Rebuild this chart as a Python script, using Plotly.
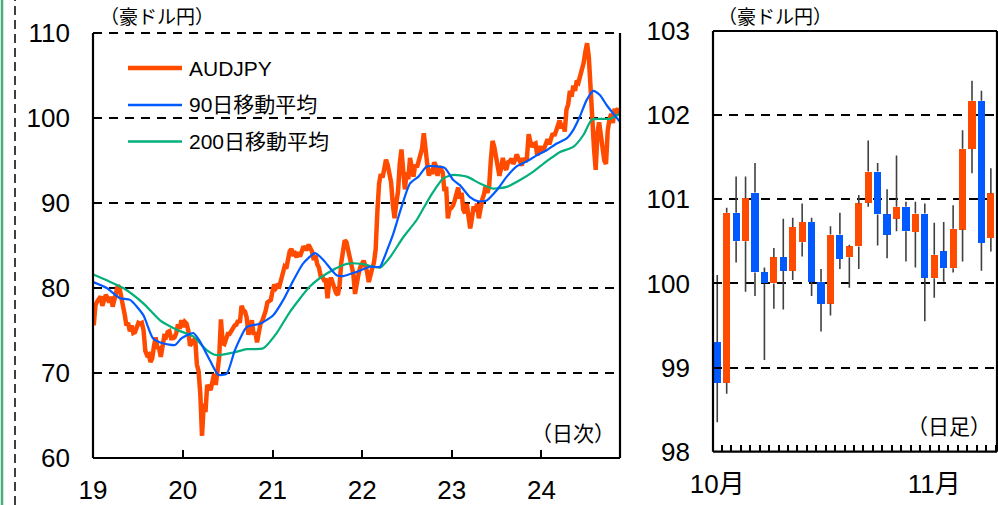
"""AUDJPY daily chart with moving averages, plus daily candlesticks for Oct-Nov 2024."""

import pandas as pd
import plotly.graph_objects as go

ORANGE = "#FF4B00"
BLUE = "#005AFF"
GREEN = "#03AF7A"
FONT = "Liberation Sans, Arial, Noto Sans CJK JP, sans-serif"

W, H = 998, 505

# AUDJPY, weekly (Fridays from 2019-01-04)
audjpy_2019 = [75.6, 78.0, 78.4, 78.8, 79.0, 77.9, 78.6, 79.2, 78.8, 78.3,
               79.0, 77.8, 78.6, 79.3, 80.3, 80.0, 78.6, 77.9, 76.9, 75.6,
               75.9, 74.9, 75.6, 74.7, 74.8, 75.5, 75.9, 75.8, 75.9, 75.0,
               72.6, 72.1, 72.2, 71.3, 71.7, 73.1, 74.2, 73.0, 72.9, 71.9,
               73.3, 74.3, 74.2, 74.8, 74.9, 74.1, 74.1, 74.2, 74.7, 75.7,
               75.2, 76.2]
audjpy_2020 = [75.4, 76.0, 75.8, 75.0, 73.2, 73.5, 74.0, 74.1, 71.0, 70.2,
               67.5, 62.6, 66.4, 65.4, 68.6, 68.2, 68.0, 68.9, 69.9, 68.6,
               70.2, 71.9, 76.3, 73.5, 73.4, 73.9, 74.6, 74.6, 75.0, 75.2,
               75.6, 75.7, 76.2, 75.9, 77.9, 77.4, 77.2, 76.5, 74.5, 75.4,
               76.2, 74.5, 74.8, 73.6, 75.1, 75.8, 76.1, 76.6, 77.3, 78.3,
               78.4, 78.6]
audjpy_2021 = [79.6, 80.4, 80.0, 80.3, 80.2, 81.0, 81.3, 82.5, 82.3, 83.6,
               84.3, 84.6, 84.0, 84.1, 83.6, 84.2, 83.7, 84.3, 84.9, 84.6,
               84.6, 85.1, 84.8, 84.3, 83.3, 83.8, 82.8, 82.4, 81.4, 81.3,
               80.9, 80.9, 78.8, 80.7, 81.2, 80.6, 79.8, 79.4, 79.2, 80.3,
               83.0, 84.4, 85.6, 85.4, 84.4, 83.4, 82.5, 81.7, 79.3, 80.8,
               81.6, 82.4]
audjpy_2022 = [82.7, 83.2, 82.6, 81.9, 80.7, 81.8, 82.3, 83.0, 84.5, 89.0,
               92.3, 93.4, 93.0, 94.0, 95.1, 94.5, 93.2, 92.4, 89.8, 88.2,
               90.0, 91.3, 94.6, 96.3, 93.9, 91.6, 93.6, 92.8, 95.3, 94.0,
               93.1, 94.5, 94.2, 94.9, 95.6, 96.4, 98.2, 96.0, 94.6, 93.2,
               94.0, 93.4, 94.8, 94.4, 93.2, 94.3, 93.8, 93.6, 91.4, 91.9,
               88.2, 89.3]
audjpy_2023 = [89.4, 89.7, 90.3, 91.0, 91.8, 90.5, 91.2, 89.2, 88.8, 89.9,
               88.2, 87.0, 88.2, 89.6, 89.0, 89.9, 88.2, 89.4, 90.4, 91.0,
               92.0, 91.2, 91.9, 95.0, 97.3, 96.6, 95.4, 94.4, 93.2, 94.1,
               95.3, 94.2, 93.9, 94.8, 94.9, 95.2, 94.6, 95.0, 95.7, 95.3,
               94.7, 94.4, 95.3, 94.8, 95.3, 98.1, 97.2, 96.6, 96.9, 97.0,
               95.6, 96.5]
audjpy_2024 = [96.5, 96.0, 96.4, 97.2, 97.5, 96.9, 97.6, 98.2, 97.9, 98.6,
               99.2, 99.7, 98.8, 99.4, 98.4, 101.0, 101.6, 103.2, 102.5, 103.8,
               103.2, 104.4, 104.2, 104.9, 105.5, 106.5, 107.8, 108.8, 107.2, 103.5,
               98.0, 96.5, 93.9, 98.2, 99.5, 98.0, 96.2, 95.0, 94.6, 98.5,
               99.8, 100.5, 99.4, 101.1, 100.3, 101.2]
audjpy = audjpy_2019 + audjpy_2020 + audjpy_2021 + audjpy_2022 + audjpy_2023 + audjpy_2024
audjpy_dates = pd.date_range("2019-01-04", periods=len(audjpy), freq="7D")

# 90-day moving average
ma90_dates = ["2019-01-02", "2019-02-26", "2019-04-21", "2019-06-01", "2019-07-25",
              "2019-09-02", "2019-10-13", "2019-12-01", "2019-12-28", "2020-02-13",
              "2020-03-12", "2020-04-21", "2020-05-25", "2020-06-28", "2020-08-01",
              "2020-09-18", "2020-11-11", "2021-01-04", "2021-02-14", "2021-03-27",
              "2021-05-06", "2021-06-23", "2021-07-27", "2021-09-19", "2021-10-16",
              "2021-12-10", "2022-02-02", "2022-03-15", "2022-03-28", "2022-04-24",
              "2022-05-08", "2022-06-11", "2022-07-15", "2022-08-18", "2022-09-21",
              "2022-11-01", "2022-12-04", "2023-01-07", "2023-02-03", "2023-03-16",
              "2023-04-19", "2023-05-23", "2023-07-03", "2023-08-13", "2023-09-22",
              "2023-11-02", "2023-12-13", "2024-01-22", "2024-03-03", "2024-04-13",
              "2024-05-10", "2024-06-06", "2024-07-03", "2024-07-30", "2024-08-26",
              "2024-09-23", "2024-10-20", "2024-11-14"]
ma90 = [80.7, 80.0, 78.8, 78.6, 76.8,
        74.1, 73.5, 73.3, 74.1, 74.7,
        73.7, 71.5, 69.8, 69.9, 72.7,
        75.4, 75.8, 76.8, 78.6, 80.9,
        82.9, 84.1, 83.3, 81.5, 81.4,
        81.9, 82.5, 82.5, 83.3, 85.3,
        86.4, 89.6, 92.3, 93.1, 94.3,
        94.3, 94.1, 92.7, 92.1, 90.7,
        90.2, 90.3, 91.5, 93.1, 94.3,
        94.9, 95.6, 96.2, 97.0, 97.6,
        98.6, 100.2, 102.1, 103.2, 102.7,
        101.5, 100.5, 99.6]

# 200-day moving average
ma200_dates = ["2019-01-02", "2019-02-26", "2019-05-04", "2019-07-25", "2019-10-01",
               "2019-12-08", "2020-02-13", "2020-04-08", "2020-05-19", "2020-07-25",
               "2020-09-18", "2020-11-24", "2021-01-18", "2021-03-13", "2021-06-03",
               "2021-08-10", "2021-10-16", "2021-11-13", "2022-01-06", "2022-03-15",
               "2022-04-24", "2022-06-18", "2022-08-11", "2022-10-04", "2022-11-27",
               "2023-01-07", "2023-03-03", "2023-04-26", "2023-06-19", "2023-08-13",
               "2023-10-06", "2023-11-29", "2024-01-22", "2024-03-17", "2024-05-10",
               "2024-06-20", "2024-07-24", "2024-08-26", "2024-10-06", "2024-11-14"]
ma200 = [81.6, 80.9, 80.0, 78.2, 76.2,
         75.1, 74.3, 72.7, 72.1, 72.4,
         72.8, 72.9, 74.7, 77.2, 80.2,
         81.7, 82.7, 82.9, 82.8, 82.4,
         83.6, 86.0, 88.0, 90.7, 92.9,
         93.3, 93.1, 92.3, 91.7, 91.9,
         92.7, 93.7, 94.9, 96.0, 96.6,
         98.0, 99.8, 99.9, 99.9, 100.5]

# daily candles, 2024-10-01 .. 2024-11-11
candle_dates = ["10/01", "10/02", "10/03", "10/04", "10/07", "10/08", "10/09", "10/10",
                "10/11", "10/14", "10/15", "10/16", "10/17", "10/18", "10/21", "10/22",
                "10/23", "10/24", "10/25", "10/28", "10/29", "10/30", "10/31", "11/01",
                "11/04", "11/05", "11/06", "11/07", "11/08", "11/11"]
c_open = [99.30, 98.82, 100.84, 100.50, 101.08, 100.13, 100.00, 100.31, 100.15, 100.49,
          100.73, 100.02, 99.76, 100.58, 100.31, 100.44, 100.96, 101.33, 100.82, 100.77,
          100.91, 100.61, 100.83, 100.06, 100.38, 100.18, 100.64, 101.60, 102.17, 100.54]
c_high = [100.10, 100.90, 101.27, 101.27, 101.43, 100.19, 100.42, 100.77, 100.78, 100.95,
          100.78, 100.17, 100.68, 100.84, 100.46, 101.05, 101.70, 101.43, 101.12, 101.52,
          100.97, 100.97, 100.95, 100.72, 100.73, 100.93, 101.82, 102.41, 102.29, 101.37]
c_low = [98.35, 98.69, 100.25, 99.90, 99.85, 99.09, 99.70, 99.69, 100.04, 100.32,
         99.85, 99.43, 99.62, 100.17, 99.95, 100.17, 100.91, 100.45, 100.30, 100.62,
         100.26, 100.19, 99.55, 99.83, 100.02, 100.13, 100.26, 101.31, 100.15, 100.38]
c_close = [98.82, 100.84, 100.50, 101.01, 100.13, 100.00, 100.31, 100.15, 100.67, 100.73,
           100.02, 99.76, 100.58, 100.29, 100.44, 100.95, 101.33, 100.82, 100.58, 100.91,
           100.62, 100.83, 100.07, 100.34, 100.18, 100.65, 101.60, 102.17, 100.48, 101.07]

left_ticks = ["2019-01-01", "2020-01-01", "2021-01-01", "2022-01-01", "2023-01-01", "2024-01-01"]
left_labels = ["19", "20", "21", "22", "23", "24"]
month_pos = [0, 23]
month_labels = ["10月", "11月"]


def px(x):
    return x / W


def py(y):
    return 1 - y / H


fig = go.Figure()

fig.add_trace(go.Scatter(x=audjpy_dates, y=audjpy, mode="lines",
                         line=dict(color=ORANGE, width=4.5), xaxis="x", yaxis="y"))
fig.add_trace(go.Scatter(x=pd.to_datetime(ma200_dates), y=ma200, mode="lines",
                         line=dict(color=GREEN, width=2.2, shape="spline", smoothing=0.6),
                         xaxis="x", yaxis="y"))
fig.add_trace(go.Scatter(x=pd.to_datetime(ma90_dates), y=ma90, mode="lines",
                         line=dict(color=BLUE, width=2.2, shape="spline", smoothing=0.6),
                         xaxis="x", yaxis="y"))

# candles: bodies as bars, wicks split above/below the body
idx = list(range(len(candle_dates)))
body_lo = [min(o, c) for o, c in zip(c_open, c_close)]
body_hi = [max(o, c) for o, c in zip(c_open, c_close)]
body_col = [ORANGE if c >= o else BLUE for o, c in zip(c_open, c_close)]
wx, wy = [], []
for i in idx:
    wx += [i, i, None, i, i, None]
    wy += [c_low[i], body_lo[i], None, body_hi[i], c_high[i], None]
fig.add_trace(go.Scatter(x=wx, y=wy, mode="lines", line=dict(color="#404040", width=1.6),
                         xaxis="x2", yaxis="y2"))
fig.add_trace(go.Bar(x=idx, y=[h - l for h, l in zip(body_hi, body_lo)], base=body_lo,
                     width=0.76, marker=dict(color=body_col, line=dict(width=0)),
                     xaxis="x2", yaxis="y2"))

grid = dict(showgrid=True, gridcolor="black", gridwidth=2, griddash="9px,7px")
tickfont = dict(family=FONT, size=26, color="black")

fig.update_layout(
    template="none",
    width=W, height=H, autosize=False,
    margin=dict(l=0, r=0, t=0, b=0, pad=0),
    paper_bgcolor="white", plot_bgcolor="white",
    showlegend=False, bargap=0,
    xaxis=dict(domain=[px(93), px(620)], type="date",
               range=["2019-01-01", "2024-11-16"],
               tickmode="array", tickvals=left_ticks, ticktext=left_labels,
               ticks="inside", ticklen=8, tickwidth=2, tickcolor="black",
               showgrid=False, zeroline=False, showline=False, automargin=False,
               tickfont=tickfont, ticklabelstandoff=14, anchor="y"),
    yaxis=dict(domain=[py(458), py(33)], range=[60, 110],
               tickmode="array", tickvals=[60, 70, 80, 90, 100, 110],
               ticks="inside", ticklen=9, tickwidth=2, tickcolor="black",
               zeroline=False, showline=False, automargin=False, tickfont=tickfont,
               ticklabelstandoff=22, anchor="x", **grid),
    xaxis2=dict(domain=[px(713), px(997)], range=[-0.45, 29.65],
                tickmode="array", tickvals=month_pos, ticktext=month_labels,
                ticks="", showgrid=False, zeroline=False, showline=False, automargin=False,
                minor=dict(tickmode="linear", tick0=0.5, dtick=1, ticks="inside",
                           ticklen=7, tickwidth=1.5, tickcolor="black", showgrid=False),
                tickfont=tickfont, ticklabelstandoff=14, anchor="y2"),
    yaxis2=dict(domain=[py(451.7), py(31)], range=[98, 103],
                tickmode="array", tickvals=[98, 99, 100, 101, 102, 103],
                ticks="inside", ticklen=8, tickwidth=2, tickcolor="black",
                zeroline=False, showline=False, automargin=False, tickfont=tickfont,
                ticklabelstandoff=22, anchor="x2", **grid),
)

shapes = []
solid = dict(color="black", width=2.2)
# left panel frame: solid left/bottom/right, dashed top
for x0, y0, x1, y1 in [(0, 0, 0, 1), (0, 0, 1, 0), (1, 0, 1, 1)]:
    shapes.append(dict(type="line", xref="x domain", yref="y domain",
                       x0=x0, y0=y0, x1=x1, y1=y1, line=solid, layer="above"))
shapes.append(dict(type="line", xref="x domain", yref="y domain", x0=0, y0=1, x1=1, y1=1,
                   line=dict(color="black", width=2, dash="9px,7px"), layer="above"))
# right panel frame
for x0, y0, x1, y1 in [(0, 0, 0, 1), (0, 0, 1, 0), (1, 0, 1, 1), (0, 1, 1, 1)]:
    shapes.append(dict(type="line", xref="x2 domain", yref="y2 domain",
                       x0=x0, y0=y0, x1=x1, y1=y1, line=solid, layer="above"))
# slide decorations on the far left
shapes.append(dict(type="line", xref="paper", yref="paper", x0=px(2), x1=px(2), y0=0, y1=1,
                   line=dict(color="#4DAA7A", width=2.5)))
shapes.append(dict(type="line", xref="paper", yref="paper", x0=px(15), x1=px(15), y0=0, y1=1,
                   line=dict(color="black", width=1.5, dash="9px,5px")))
# legend box and samples
shapes.append(dict(type="rect", xref="paper", yref="paper", x0=px(95), x1=px(360),
                   y0=py(168), y1=py(36), fillcolor="white", line=dict(width=0),
                   layer="between"))
legend_items = [("AUDJPY", ORANGE, 4.5, 68), ("90日移動平均", BLUE, 2.4, 105),
                ("200日移動平均", GREEN, 2.4, 141.5)]
for name, col, lw, yy in legend_items:
    shapes.append(dict(type="line", xref="paper", yref="paper", x0=px(128), x1=px(182),
                       y0=py(yy), y1=py(yy), line=dict(color=col, width=lw)))
fig.update_layout(shapes=shapes)

ann = []
for name, col, lw, yy in legend_items:
    ann.append(dict(text=name, x=px(187), y=py(yy), xanchor="left", yanchor="middle", size=21))
ann.append(dict(text="（豪ドル円）", x=px(98), y=py(17), xanchor="left", yanchor="middle", size=19))
ann.append(dict(text="（豪ドル円）", x=px(716), y=py(17), xanchor="left", yanchor="middle", size=19))
ann.append(dict(text="（日次）", x=px(617), y=py(433), xanchor="right", yanchor="middle", size=21))
ann.append(dict(text="（日足）", x=px(993), y=py(426), xanchor="right", yanchor="middle", size=21))
for a in ann:
    size = a.pop("size")
    a.update(xref="paper", yref="paper", showarrow=False,
             font=dict(family=FONT, size=size, color="black"))
fig.update_layout(annotations=ann)

# drop the browser's default 8px page margin so the figure sits at the window's corner
fig.write_html("out.html", config={"displayModeBar": False},
               post_script="document.body.style.margin='0';document.body.style.overflow='hidden';")
